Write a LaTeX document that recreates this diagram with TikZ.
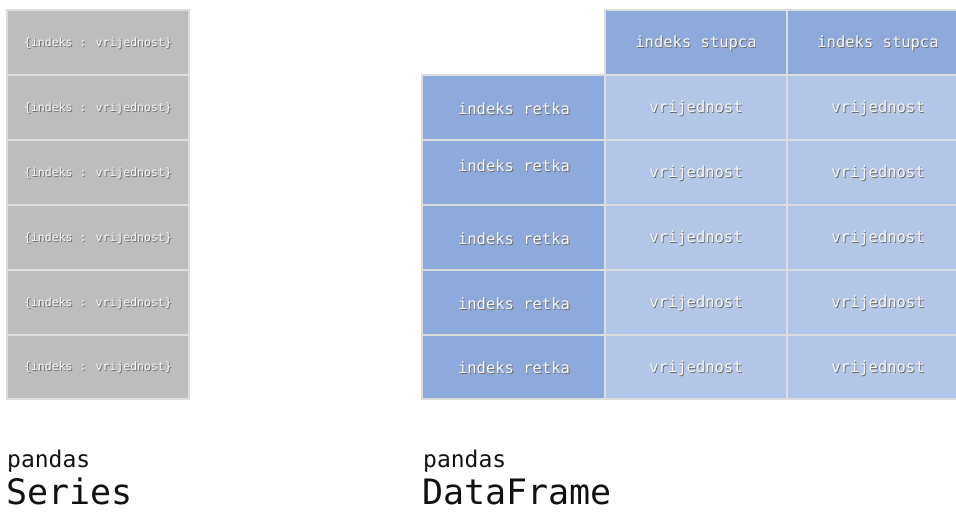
\documentclass[tikz,border=0pt]{standalone}
\usepackage{fontspec}
\setmainfont{DejaVu Sans Mono}
\setmonofont{DejaVu Sans Mono}
\definecolor{sgray}{HTML}{BDBDBD}
\definecolor{idxblue}{HTML}{8EA9DB}
\definecolor{valblue}{HTML}{B4C6E7}
\definecolor{gridline}{HTML}{DCDCDC}
\definecolor{txtwhite}{HTML}{F7F7F7}
\definecolor{txtshadow}{HTML}{6E6E6E}
\definecolor{captxt}{HTML}{111111}
\newcommand{\shtext}[1]{\rlap{\kern0.9pt\raisebox{-0.9pt}{\textcolor{txtshadow}{#1}}}\textcolor{txtwhite}{#1}}
\tikzset{
  cellbox/.style={draw=gridline, line width=1.5pt, inner sep=0pt, outer sep=0pt},
  sercell/.style={cellbox, fill=sgray},
  idxcell/.style={cellbox, fill=idxblue},
  valcell/.style={cellbox, fill=valblue},
  sertext/.style={font=\fontsize{11.5}{12}\selectfont, inner sep=0pt},
  celltext/.style={font=\fontsize{15.5}{16}\selectfont, inner sep=0pt},
  smallcap/.style={font=\fontsize{23}{24}\selectfont, text=captxt, anchor=base west, inner sep=0pt},
  bigcap/.style={font=\fontsize{35}{38}\selectfont, text=captxt, anchor=base west, inner sep=0pt}
}
\begin{document}
\begin{tikzpicture}[x=1pt,y=-1pt]
\useasboundingbox (0,0) rectangle (956,513);
\clip (0,0) rectangle (956,513);
% Series cells
\foreach \i/\t/\b in {1/10/75,2/75/140,3/140/205,4/205/270,5/270/335,6/335/399}{
  \path[sercell] (7,\t) rectangle (189,\b);
  \node[sertext] (s\i) at (98,{(\t+\b)/2+1}) {\shtext{\{indeks : vrijednost\}}};
}
% DataFrame header
\path[idxcell] (605,10) rectangle (787,75);
\path[idxcell] (787,10) rectangle (975,75);
\node[celltext] (h1) at (696,44) {\shtext{indeks stupca}};
\node[celltext] (h2) at (878,44) {\shtext{indeks stupca}};
% DataFrame rows
\foreach \i/\t/\b/\ry in {1/75/140/109,2/140/205/166.5,3/205/270/239,4/270/335/304,5/335/399/368.5}{
  \path[idxcell] (422,\t) rectangle (605,\b);
  \path[valcell] (605,\t) rectangle (787,\b);
  \path[valcell] (787,\t) rectangle (975,\b);
  \node[celltext] (r\i) at (514,\ry) {\shtext{indeks retka}};
  \node[celltext] (v\i a) at (696,{(\t+\b)/2+1.5}) {\shtext{vrijednost}};
  \node[celltext] (v\i b) at (878,{(\t+\b)/2+1.5}) {\shtext{vrijednost}};
}
% Captions
\node[smallcap] (p1) at (7,467) {pandas};
\node[bigcap] (c1) at (6,504) {Series};
\node[smallcap] (p2) at (423,467) {pandas};
\node[bigcap] (c2) at (422,504) {DataFrame};
\end{tikzpicture}
\end{document}
